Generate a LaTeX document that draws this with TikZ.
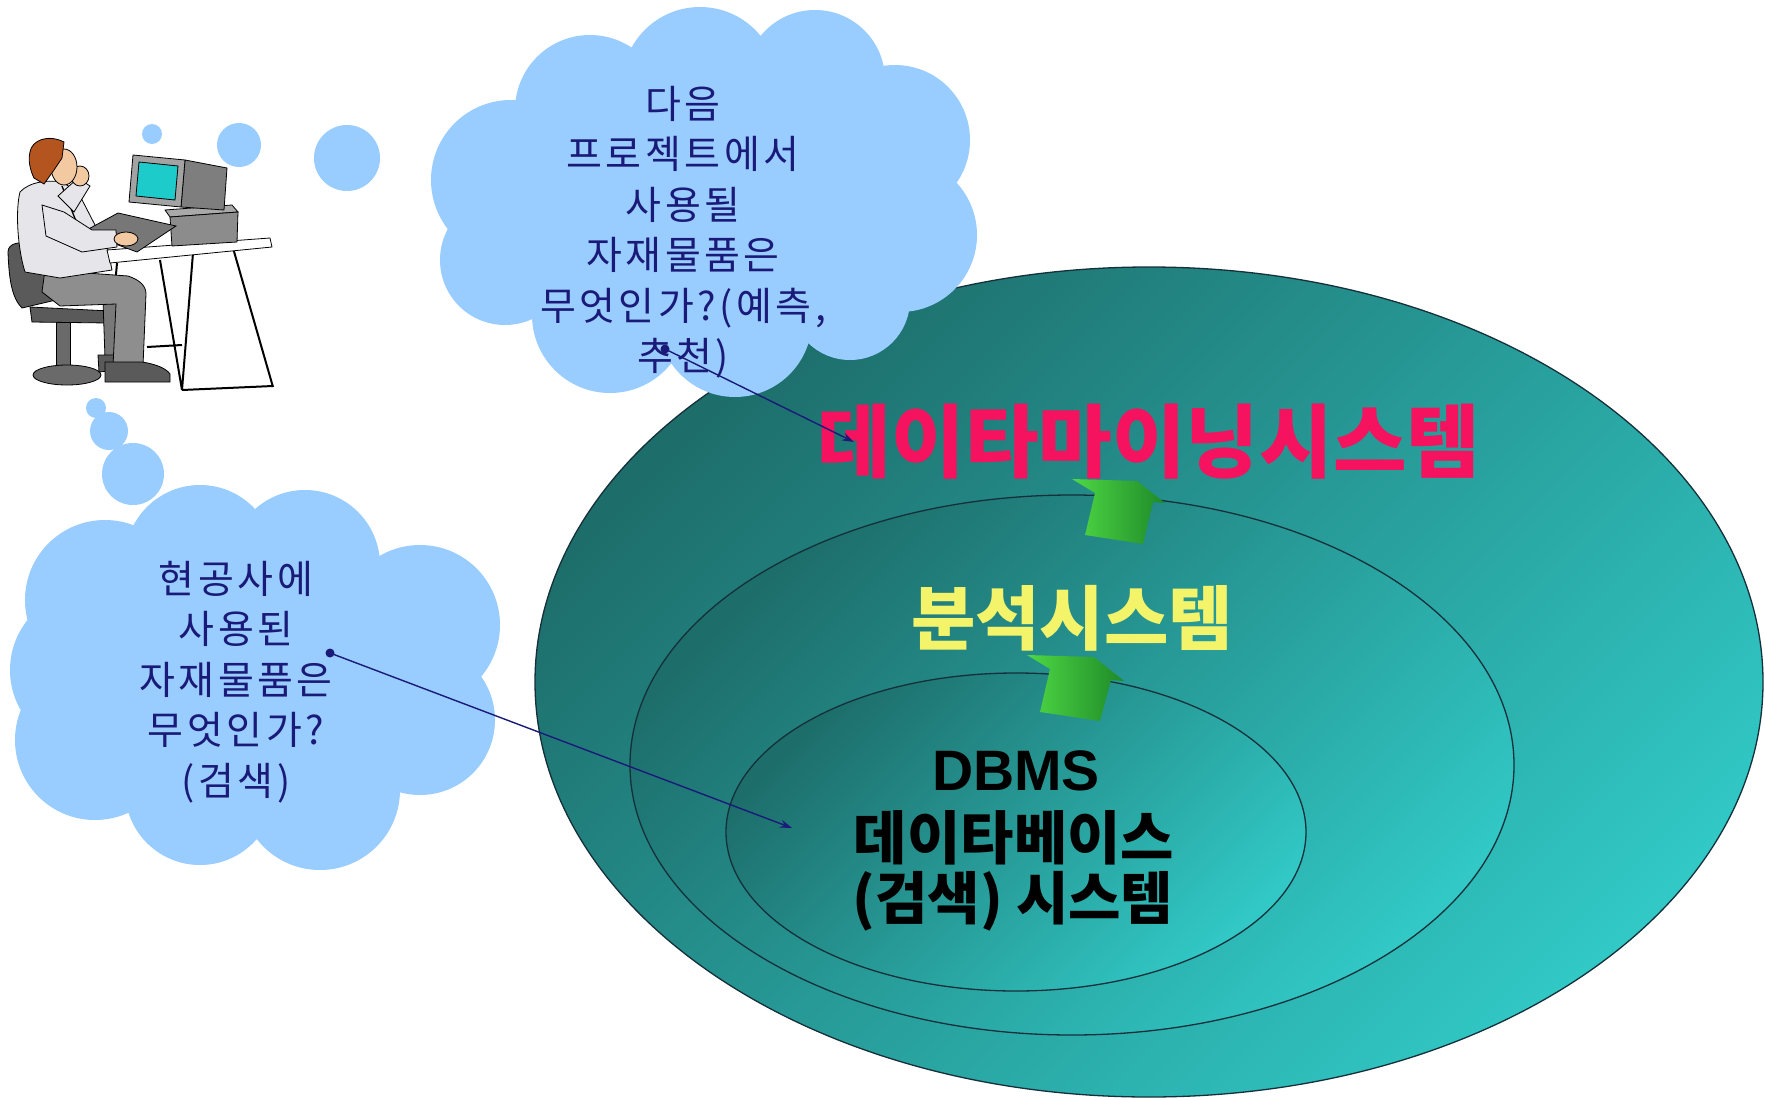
\documentclass[tikz,border=0pt]{standalone}
\usepackage{fontspec}
\setmainfont{Liberation Sans}
\newfontfamily\kr{Noto Sans CJK KR}
\newfontfamily\krs[LetterSpace=9]{Noto Sans CJK KR}
\usetikzlibrary{arrows.meta}

\definecolor{cloudblue}{HTML}{99CCFF}
\definecolor{asknavy}{HTML}{1A1A78}
\definecolor{tealdark}{HTML}{1D6D6A}
\definecolor{teallight}{HTML}{31C8C5}
\definecolor{ringline}{HTML}{15303A}
\definecolor{minepink}{HTML}{F5125E}
\definecolor{anyellow}{HTML}{F4F46A}
\definecolor{greenlight}{HTML}{4FD845}
\definecolor{greendark}{HTML}{1E8A28}
\definecolor{chairgray}{HTML}{5A5A5A}
\definecolor{postgray}{HTML}{6A6A6A}
\definecolor{pantsgray}{HTML}{8E8E8E}
\definecolor{shirtgray}{HTML}{E6E6EA}
\definecolor{skin}{HTML}{F3C9A2}
\definecolor{hair}{HTML}{B4541E}
\definecolor{boxgray}{HTML}{8C8C8C}
\definecolor{screencyan}{HTML}{1ECBCB}

\tikzset{
  ring/.style={draw=ringline, line width=1.3pt, top color=tealdark, bottom color=teallight, shading angle=45},
  uparrow/.style={left color=greenlight, right color=greendark},
  asktext/.style={text=asknavy, align=center, inner sep=0pt,
    font=\krs\fontsize{39}{50.5}\selectfont},
  pointer/.style={draw=asknavy, line width=1.4pt, -{Stealth[length=12pt,width=8pt]}},
  art/.style={draw=black, line width=0.8pt},
  syslabel/.style={inner sep=0pt},
}

\begin{document}
\begin{tikzpicture}[x=1pt,y=-1pt]
\useasboundingbox (0,0) rectangle (1765,1100);
\fill[white] (0,0) rectangle (1765,1100);

% nested system rings
\path[ring] (1149,682) ellipse [x radius=614pt, y radius=415pt];
\path[ring] (1072,765) ellipse [x radius=442pt, y radius=270pt];
\path[ring] (1016,832) ellipse [x radius=290pt, y radius=159pt];

% upward green arrows between the rings
\path[uparrow] (1072,479) -- (1137,481) -- (1165,503) -- (1153,502) -- (1143,544) -- (1085,535) -- (1095,493) -- cycle;
\path[uparrow] (1027,655) -- (1094,657) -- (1124,681) -- (1111,680) -- (1100,721) -- (1040,712) -- (1050,669) -- cycle;

% ring labels
\node[syslabel, text=minepink, font=\kr\bfseries\fontsize{80}{88}\selectfont] (mining) at (1149,442) {데이타마이닝시스템};
\node[syslabel, text=anyellow, font=\kr\bfseries\fontsize{70}{76}\selectfont] (analysis) at (1072,618) {분석시스템};
\node[syslabel, text=black, font=\bfseries\fontsize{57}{62}\selectfont] (dbms) at (1016,771) {DBMS};
\node[syslabel, text=black, font=\kr\bfseries\fontsize{58}{62}\selectfont] (dbkr) at (1014,838) {데이타베이스};
\node[syslabel, text=black, font=\kr\bfseries\fontsize{57}{62}\selectfont] (dbsearch) at (1013,901) {(검색) 시스템};

% thought bubbles
\fill[cloudblue] (152,134) circle (10pt) (239,145) circle (22pt) (347,158) circle (33pt);
\fill[cloudblue] (96,408) circle (10pt) (109,431) circle (19pt) (133,474) circle (31pt);

% upper cloud
\fill[cloudblue]
  (700,220) ellipse [x radius=200pt, y radius=130pt]
  (511,180) circle (80pt) (590,110) circle (75pt) (700,85) circle (78pt)
  (815,80) circle (70pt) (895,140) circle (75pt) (900,235) circle (77pt)
  (850,300) circle (60pt) (735,320) circle (77pt) (610,315) circle (78pt)
  (505,260) circle (65pt);

% lower cloud
\fill[cloudblue]
  (255,680) ellipse [x radius=180pt, y radius=150pt]
  (105,600) circle (80pt) (200,560) circle (75pt) (305,565) circle (75pt)
  (420,625) circle (80pt) (420,720) circle (75pt) (320,790) circle (80pt)
  (200,790) circle (75pt) (95,740) circle (80pt) (90,670) circle (80pt);

\node[asktext] (ask1) at (683,232) {다음\\프로젝트에서\\사용될\\자재물품은\\무엇인가?(예측,\\추천)};
\node[asktext] (ask2) at (236,682) {현공사에\\사용된\\자재물품은\\무엇인가?\\(검색)};

% pointers from the questions to the systems
\coordinate (from1) at (665,349);
\coordinate (to1) at (854,442);
\coordinate (from2) at (330,653);
\coordinate (to2) at (792,828);
\fill[asknavy] (from1) circle (4.5pt);
\fill[asknavy] (from2) circle (4.5pt);
\draw[pointer] (from1) -- (to1);
\draw[pointer] (from2) -- (to2);

% office worker at the computer
% chair
\filldraw[art, fill=chairgray] (8,252) .. controls (8,243) and (20,241) .. (32,244) -- (45,252) -- (56,300) -- (22,308) .. controls (12,298) and (9,280) .. cycle;
\filldraw[art, fill=chairgray] (30,307) -- (110,311) -- (108,323) -- (32,322) -- cycle;
\filldraw[art, fill=postgray] (56,322) rectangle (70,366);
\filldraw[art, fill=postgray] (67,375) ellipse [x radius=34pt, y radius=10pt];
% desk legs
\draw[line width=2pt] (117,263) -- (110,343) (147,347) -- (182,345)
  (160,260) -- (182,390) (193,253) -- (182,390) (233,248) -- (273,387) (182,390) -- (273,386);
% legs and shoes
\filldraw[art, fill=pantsgray!85!black] (103,300) -- (119,300) -- (121,358) -- (105,358) -- cycle;
\filldraw[art, fill=chairgray] (98,355) -- (122,355) -- (132,369) -- (99,372) -- cycle;
\filldraw[art, fill=pantsgray] (45,270) -- (128,276) .. controls (140,280) and (146,286) .. (146,294) -- (143,366) -- (113,366) -- (116,304) -- (60,306) -- (42,292) -- cycle;
\filldraw[art, fill=chairgray] (105,362) -- (142,362) .. controls (155,364) and (166,368) .. (170,374) -- (170,382) -- (105,382) -- cycle;
% torso
\filldraw[art, fill=shirtgray] (20,192) .. controls (30,181) and (50,180) .. (62,182) -- (78,192) -- (95,225) -- (108,250) -- (112,270) -- (60,278) -- (25,272) .. controls (18,250) and (15,212) .. cycle;
\draw[line width=1.3pt] (62,186) -- (82,236);
% desk top, computer box, monitor, keyboard
\filldraw[art, fill=white] (107,250) -- (270,238) -- (272,247) -- (110,263) -- cycle;
\filldraw[art, fill=boxgray!75!white] (165,210) -- (232,205) -- (238,212) -- (170,217) -- cycle;
\filldraw[art, fill=boxgray] (170,217) -- (238,212) -- (237,242) -- (172,246) -- cycle;
\filldraw[art, fill=boxgray!90!black] (185,160) -- (227,168) -- (224,210) -- (181,207) -- cycle;
\filldraw[art, fill=boxgray!80!white] (133,155) -- (185,160) -- (181,207) -- (129,202) -- cycle;
\filldraw[art, fill=screencyan] (139,162) -- (178,166) -- (175,200) -- (136,196) -- cycle;
\filldraw[art, fill=boxgray!85!black] (83,232) -- (118,213) -- (176,226) -- (137,252) -- cycle;
% arms and hands
\filldraw[art, fill=shirtgray] (42,205) -- (64,212) -- (92,230) -- (116,230) -- (117,247) -- (82,252) -- (46,236) -- cycle;
\filldraw[art, fill=skin] (126,239) ellipse [x radius=12pt, y radius=7pt];
\filldraw[art, fill=shirtgray] (58,196) -- (78,178) -- (90,186) -- (74,212) -- cycle;
\filldraw[art, fill=skin] (80,176) ellipse [x radius=9pt, y radius=10pt];
% head
\filldraw[art, fill=skin] (64,167) ellipse [x radius=13pt, y radius=18pt];
\filldraw[art, fill=hair] (30,152) .. controls (32,140) and (48,134) .. (64,142) -- (62,158) -- (54,170) -- (44,184) -- (34,178) .. controls (30,170) and (28,160) .. cycle;
\end{tikzpicture}
\end{document}
